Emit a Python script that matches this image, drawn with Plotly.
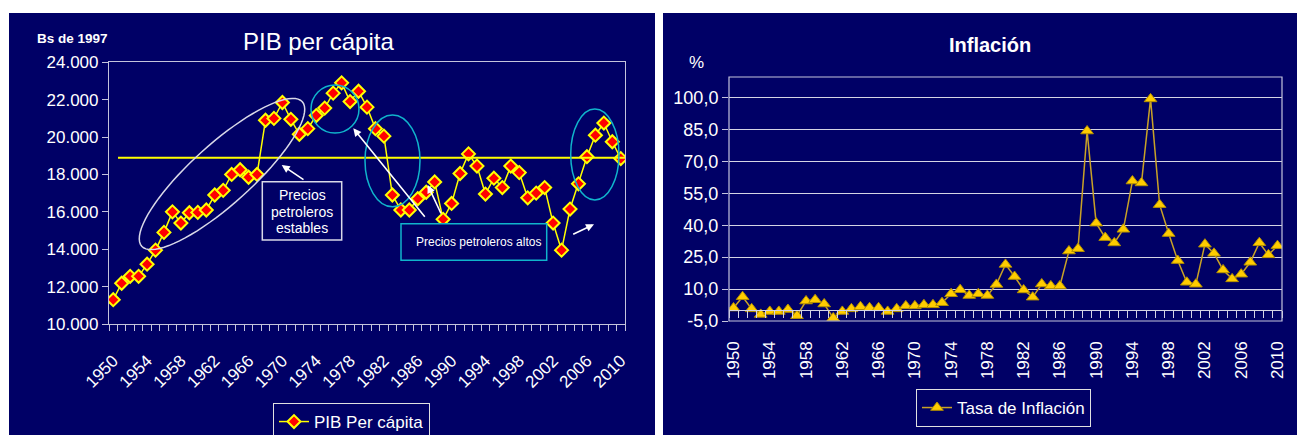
import math
import plotly.graph_objects as go

# ---------------- data ----------------
years = list(range(1950, 2011))
pib_per_capita = [11300, 12180, 12550, 12550, 13200, 13950, 14900, 16000, 15400, 15950,
                  15970, 16100, 16900, 17150, 18000, 18250, 17850, 18000, 20900, 21000,
                  21850, 20950, 20150, 20450, 21150, 21550, 22350, 22900, 21900, 22450,
                  21600, 20450, 20050, 16900, 16100, 16100, 16700, 17050, 17600, 15600,
                  16450, 18050, 19100, 18450, 16950, 17800, 17300, 18450, 18100, 16750,
                  17000, 17300, 15400, 13950, 16150, 17500, 18950, 20100, 20750, 19750,
                  18850]
pib_average = 18900
inflacion = [1.1, 6.4, 0.7, -1.9, -0.5, -0.5, 0.4, -2.5, 4.4, 5.0,
             3.0, -3.6, -0.5, 0.7, 1.7, 1.2, 1.2, -0.5, 0.7, 2.1,
             2.1, 2.6, 2.6, 3.6, 7.8, 9.7, 7.0, 7.8, 7.0, 12.2,
             21.6, 15.9, 9.6, 6.2, 12.4, 11.5, 11.5, 27.9, 29.0, 84.3,
             41.0, 34.2, 31.7, 38.1, 60.8, 59.9, 99.4, 49.7, 36.1, 23.4,
             13.2, 12.3, 31.1, 26.8, 19.0, 14.8, 17.0, 22.6, 31.8, 26.1,
             30.4]
infl_ticks = [-5, 10, 25, 40, 55, 70, 85, 100]
infl_ticktext = [f"{v:.1f}".replace(".", ",") for v in infl_ticks]

# ---------------- layout helpers ----------------
W, H = 1297, 435
def px(x):
    return x / W
def py(y):
    return 1 - y / H

NAVY = "#000066"
FONT = "Liberation Sans, Arial, sans-serif"
AXC = "#c4c4dc"
GRID = "#d4d4e4"
CYAN = "#10b4cc"

L_dom_x = [px(109), px(625)]
L_dom_y = [py(324), py(62.3)]
R_dom_x = [px(729), px(1282)]
R_dom_y = [py(321), py(77)]
R_range = [-5, 109.7]
zero_pos = R_dom_y[0] + (0 - R_range[0]) / (R_range[1] - R_range[0]) * (R_dom_y[1] - R_dom_y[0])

fig = go.Figure()

fig.add_trace(go.Scatter(
    x=years, y=pib_per_capita, mode="lines+markers", name="PIB Per cápita",
    line=dict(color="#ffff00", width=1.5),
    marker=dict(symbol="diamond", size=10, color="#ff0000", line=dict(color="#ffff00", width=2)),
    xaxis="x", yaxis="y", legend="legend", showlegend=True))

fig.add_trace(go.Scatter(
    x=years, y=inflacion, mode="lines+markers", name="Tasa de Inflación",
    line=dict(color="#c9a227", width=1.5),
    marker=dict(symbol="triangle-up", size=11, color="#ffcc00", line=dict(color="#b38f00", width=1)),
    xaxis="x2", yaxis="y2", legend="legend2", showlegend=True))

def ellipse_path(cx, cy, a, b, ang, n=80):
    th = math.radians(ang)
    pts = []
    for i in range(n):
        t = 2 * math.pi * i / n
        ex = cx + a * math.cos(t) * math.cos(th) + b * math.sin(t) * math.sin(th)
        ey = cy - a * math.cos(t) * math.sin(th) + b * math.sin(t) * math.cos(th)
        pts.append(f"{px(ex):.5f},{py(ey):.5f}")
    return "M " + " L ".join(pts) + " Z"

shapes = [
    dict(type="rect", xref="paper", yref="paper", x0=px(9), x1=px(655), y0=0, y1=py(13),
         fillcolor=NAVY, line=dict(width=0), layer="below"),
    dict(type="rect", xref="paper", yref="paper", x0=px(663), x1=1, y0=0, y1=py(13),
         fillcolor=NAVY, line=dict(width=0), layer="below"),
    dict(type="rect", xref="x2 domain", yref="y2 domain", x0=0, x1=1, y0=0, y1=1,
         line=dict(color=AXC, width=1.2)),
    dict(type="line", xref="x domain", yref="y", x0=(118 - 109) / 516, x1=1,
         y0=pib_average, y1=pib_average, line=dict(color="#ffff00", width=2)),
    dict(type="path", xref="paper", yref="paper", path=ellipse_path(222, 174, 108, 30, 42),
         line=dict(color="#d8d8e8", width=1.5)),
    dict(type="circle", xref="paper", yref="paper", x0=px(311), x1=px(359), y0=py(133), y1=py(85),
         line=dict(color=CYAN, width=1.5)),
    dict(type="circle", xref="paper", yref="paper", x0=px(365), x1=px(420), y0=py(206.7), y1=py(115),
         line=dict(color=CYAN, width=1.5)),
    dict(type="circle", xref="paper", yref="paper", x0=px(570.7), x1=px(619), y0=py(200), y1=py(109),
         line=dict(color=CYAN, width=1.5)),
    dict(type="rect", xref="paper", yref="paper", x0=px(262.3), x1=px(341.7), y0=py(240), y1=py(181.7),
         fillcolor=NAVY, line=dict(color="#d8d8e8", width=1.5)),
    dict(type="rect", xref="paper", yref="paper", x0=px(401), x1=px(546.7), y0=py(260.3), y1=py(223.7),
         fillcolor=NAVY, line=dict(color=CYAN, width=1.5)),
]

def txt(x, y, s, size, bold=False, xanchor="center"):
    return dict(xref="paper", yref="paper", x=px(x), y=py(y), text=f"<b>{s}</b>" if bold else s,
                showarrow=False, xanchor=xanchor, yanchor="middle",
                font=dict(family=FONT, size=size, color="white"))

def arrow(hx, hy, tx, ty):
    return dict(xref="paper", yref="paper", x=px(hx), y=py(hy), ax=tx - hx, ay=ty - hy,
                text="", showarrow=True, arrowhead=2, arrowsize=1, arrowwidth=1.6,
                arrowcolor="white", standoff=0, startstandoff=0)

annotations = [
    txt(318, 41, "PIB per cápita", 24),
    txt(35, 38, "Bs de 1997", 13.5, bold=True, xanchor="left"),
    txt(990, 45, "Inflación", 20, bold=True),
    txt(696, 62, "%", 17),
    txt(302, 195, "Precios", 14),
    txt(302, 211.7, "petroleros", 14),
    txt(302, 227.7, "estables", 14),
    txt(478, 242, "Precios petroleros altos", 12),
    arrow(281.7, 165, 305, 180.7),
    arrow(353.3, 128.3, 426, 218.3),
    arrow(427.7, 185, 441.7, 215),
    arrow(594, 224.3, 571.7, 235),
]

tickfont = dict(family=FONT, size=17, color="white")

fig.update_layout(
    template="none", showlegend=True,
    width=W, height=H, margin=dict(l=0, r=0, t=0, b=0, pad=0, autoexpand=False),
    paper_bgcolor="white", plot_bgcolor="rgba(0,0,0,0)",
    separators=",.", font=dict(family=FONT, color="white"),
    shapes=shapes, annotations=annotations,
    xaxis=dict(domain=L_dom_x, anchor="y", range=[1949.5, 2010.5], tickmode="linear",
               tick0=1950, dtick=4, ticks="", tickangle=-45, tickfont=tickfont,
               showline=True, linecolor=AXC, linewidth=1.2, mirror=True, automargin=False,
               showgrid=False, zeroline=False, ticklabelstandoff=19,
               minor=dict(ticks="outside", tick0=1949.5, dtick=1, ticklen=6,
                          tickcolor=AXC, tickwidth=1.2, showgrid=False)),
    yaxis=dict(domain=L_dom_y, anchor="x", range=[10000, 24000], tickmode="linear",
               tick0=10000, dtick=2000, tickformat=",.0f", ticks="outside", ticklen=6,
               tickcolor=AXC, tickwidth=1.2, tickfont=tickfont, automargin=False,
               showline=True, linecolor=AXC, linewidth=1.2, mirror=True,
               showgrid=False, zeroline=False),
    xaxis2=dict(domain=R_dom_x, anchor="free", position=zero_pos, range=[1949.5, 2010.5],
                tickmode="linear", tick0=1950, dtick=4, ticks="", tickangle=-90,
                tickfont=tickfont, showline=True, linecolor=GRID, linewidth=1.2,
                showgrid=False, zeroline=False, ticklabelstandoff=23, automargin=False,
                minor=dict(ticks="outside", tick0=1949.5, dtick=1, ticklen=7,
                           tickcolor=GRID, tickwidth=1.2, showgrid=False)),
    yaxis2=dict(domain=R_dom_y, anchor="x2", range=R_range, tickmode="array",
                tickvals=infl_ticks, ticktext=infl_ticktext, ticks="outside", ticklen=6,
                tickcolor=AXC, tickwidth=1.2, tickfont=dict(family=FONT, size=18, color="white"),
                showline=False, showgrid=True, gridcolor=GRID, gridwidth=1.2, zeroline=False,
                automargin=False),
    legend=dict(x=px(273), y=py(403), xanchor="left", yanchor="top", bgcolor=NAVY,
                bordercolor="#e0e0e0", borderwidth=1, font=dict(family=FONT, size=17, color="white")),
    legend2=dict(x=px(916), y=py(389), xanchor="left", yanchor="top", bgcolor=NAVY,
                 bordercolor="#e0e0e0", borderwidth=1, font=dict(family=FONT, size=17, color="white")),
)

fig.write_html(
    "out.html",
    config={"displayModeBar": False},
    post_script="document.body.style.margin='0';document.body.style.padding='0';"
                "document.documentElement.style.overflow='hidden';",
)
